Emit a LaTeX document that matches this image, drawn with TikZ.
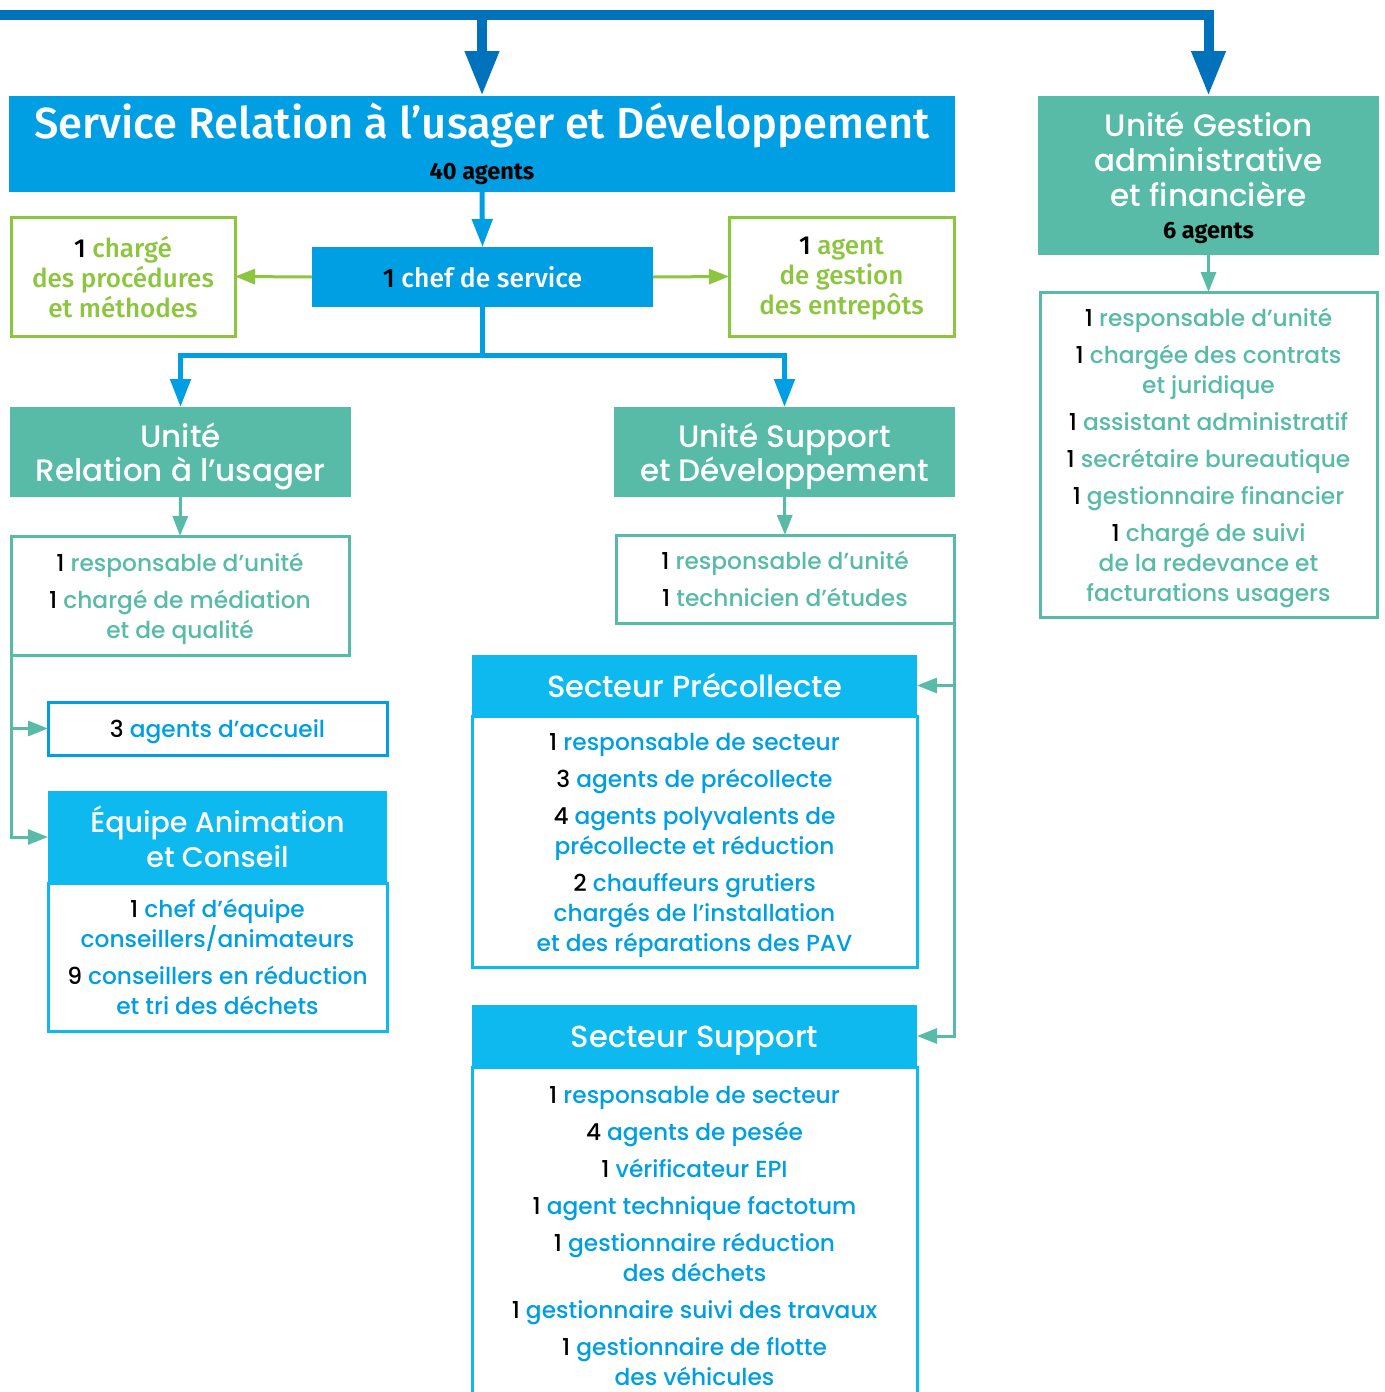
\documentclass[tikz,border=0pt]{standalone}
\usepackage{fontspec}
\setmainfont{Poppins}[UprightFont={* Medium},BoldFont={* SemiBold}]
\newfontfamily\fira{Fira Sans}[UprightFont={* Medium},BoldFont={* Bold}]
\usetikzlibrary{arrows.meta}
\definecolor{dblue}{HTML}{0072BC}
\definecolor{sblue}{HTML}{009FE3}
\definecolor{lblue}{HTML}{0DB9EE}
\definecolor{tealc}{HTML}{57BBA8}
\definecolor{grn}{HTML}{8CC63F}
\newcommand\cnt[1]{{\color{black}#1}}
\newcommand\sh[1]{\rule{0pt}{#1pt}}
\begin{document}
\begin{tikzpicture}[x=1pt,y=-1pt,
  every node/.style={inner sep=0pt, outer sep=0pt, align=center},
  svcbox/.style={fill=sblue, text=white},
  tealhdr/.style={fill=tealc, text=white, font=\fontsize{31}{34}\selectfont},
  tealbody/.style={draw=tealc, line width=3pt, fill=white, text=tealc, font=\fontsize{23.3}{30}\selectfont},
  grnbox/.style={draw=grn, line width=3pt, fill=white, text=grn, font=\fira\fontsize{26}{30}\selectfont},
  bluehdr/.style={fill=lblue, text=white, font=\fontsize{30.5}{35}\selectfont},
  bluebody/.style={draw=lblue, line width=3pt, fill=white, text=sblue, font=\fontsize{23.3}{30}\selectfont},
  topline/.style={draw=dblue, line width=10pt, line join=miter},
  toparrow/.style={draw=dblue, line width=10pt, line join=miter, -{Triangle[width=32pt,length=45pt]}},
  bluecon/.style={draw=sblue, line width=5pt, line join=miter},
  bluearrow/.style={draw=sblue, line width=5pt, line join=miter, -{Triangle[width=20pt,length=28pt]}},
  tealarrow/.style={draw=tealc, line width=3pt, line join=miter, -{Triangle[width=15pt,length=20pt]}},
  grnarrow/.style={draw=grn, line width=3pt, -{Triangle[width=15pt,length=20pt]}},
]
\useasboundingbox (0,0) rectangle (1384,1392);
\fill[white] (0,0) rectangle (1384,1392);

% main service box
\node[svcbox, minimum width=946, minimum height=96, font=\fira\fontsize{43.5}{41}\selectfont] (svc) at (482,144)
  {Service Relation à l’usager et Développement\\{\bfseries\fontsize{23.5}{22}\selectfont\color{black}40 agents}};
% gestion unit
\node[tealhdr, minimum width=341, minimum height=159, font=\fontsize{31}{35}\selectfont] (gest) at (1208.5,175.5)
  {\sh{30}Unité Gestion\\administrative\\et financière\\[-3pt]{\fira\bfseries\fontsize{23.5}{22}\selectfont\color{black}6 agents}};
\node[tealbody, minimum width=337, minimum height=325] (gestB) at (1208.5,454.5)
  {\sh{26}\cnt{1} responsable d’unité\\[7pt]\cnt{1} chargée des contrats\\et juridique\\[7pt]\cnt{1} assistant administratif\\[7pt]\cnt{1} secrétaire bureautique\\[7pt]\cnt{1} gestionnaire financier\\[7pt]\cnt{1} chargé de suivi\\de la redevance et\\facturations usagers};

% chef and green boxes
\node[svcbox, minimum width=341, minimum height=60, font=\fira\fontsize{26.5}{26}\selectfont] (chef) at (482.5,277) {\cnt{1} chef de service};
\node[grnbox, minimum width=224, minimum height=119] (grL) at (123,276.5) {\sh{22}\cnt{1} chargé\\des procédures\\et méthodes};
\node[grnbox, minimum width=225, minimum height=119] (grR) at (841.5,276.5) {\sh{22}\cnt{1} agent\\de gestion\\des entrepôts};

% units
\node[tealhdr, minimum width=341, minimum height=90] (urel) at (180.5,452) {\sh{34}Unité\\Relation à l’usager};
\node[tealhdr, minimum width=341, minimum height=90] (usd) at (784.5,452) {\sh{34}Unité Support\\et Développement};
\node[tealbody, minimum width=338, minimum height=119] (urelB) at (180,595.5)
  {\sh{26}\cnt{1} responsable d’unité\\[7pt]\cnt{1} chargé de médiation\\et de qualité};
\node[tealbody, minimum width=338, minimum height=88] (usdB) at (785,579)
  {\cnt{1} responsable d’unité\\[7pt]\cnt{1} technicien d’études};

% left branch
\node[draw=sblue, line width=3pt, fill=white, text=sblue, font=\fontsize{23.3}{30}\selectfont, minimum width=339, minimum height=53] (acc) at (217.5,728.5) {\sh{25}\cnt{3} agents d’accueil};
\node[bluebody, minimum width=339, minimum height=148] (eqB) at (217.5,957)
  {\cnt{1} chef d’équipe\\conseillers/animateurs\\[7pt]\cnt{9} conseillers en réduction\\et tri des déchets};
\node[bluehdr, minimum width=339, minimum height=92, font=\fontsize{28.5}{35}\selectfont] (eqH) at (217.5,837) {Équipe Animation\\et Conseil};

% secteurs
\node[bluebody, minimum width=445, minimum height=251] (spB) at (694.5,841.5)
  {\sh{25.5}\cnt{1} responsable de secteur\\[7pt]\cnt{3} agents de précollecte\\[7pt]\cnt{4} agents polyvalents de\\précollecte et réduction\\[7pt]\cnt{2} chauffeurs grutiers\\chargés de l’installation\\et des réparations des PAV};
\node[bluehdr, minimum width=445, minimum height=61] (spH) at (694.5,685.5) {Secteur Précollecte};
\node[bluebody, minimum width=445, minimum height=333] (ssB) at (694.5,1233.5) {};
\node[bluehdr, minimum width=445, minimum height=62] (ssH) at (694.5,1036) {\sh{31}Secteur Support};
\node[text=sblue, font=\fontsize{23.3}{30}\selectfont] (ssT) at (694.5,1236)
  {\cnt{1} responsable de secteur\\[7pt]\cnt{4} agents de pesée\\[7pt]\cnt{1} vérificateur EPI\\[7pt]\cnt{1} agent technique factotum\\[7pt]\cnt{1} gestionnaire réduction\\des déchets\\[7pt]\cnt{1} gestionnaire suivi des travaux\\[7pt]\cnt{1} gestionnaire de flotte\\des véhicules};

% top connectors
\coordinate (tl) at (-10,15);
\coordinate (tm) at (482,15);
\coordinate (tr) at (1208.5,15);
\draw[toparrow] (tl) -- (tr) -- (gest.north);
\draw[toparrow] (tm) -- (svc.north);

% service connectors
\draw[bluearrow] (svc.south) -- (chef.north);
\draw[grnarrow] (chef.west) -- (grL.east);
\draw[grnarrow] (chef.east) -- (grR.west);
\coordinate (jn) at (482.5,355);
\draw[bluecon] (chef.south) -- (jn);
\draw[bluearrow] (jn) -| (urel.north);
\draw[bluearrow] (jn) -| (usd.north);

% unit connectors
\draw[tealarrow] (urel.south) -- (urelB.north);
\draw[tealarrow] (usd.south) -- (usdB.north);
\draw[tealarrow] (gest.south) -- (gestB.north);
\draw[tealarrow] (urelB.south west) |- (acc.west);
\draw[tealarrow] (urelB.south west) |- (eqH.west);
\draw[tealarrow] (usdB.south east) |- (spH.east);
\draw[tealarrow] (usdB.south east) |- (ssH.east);
\end{tikzpicture}
\end{document}
